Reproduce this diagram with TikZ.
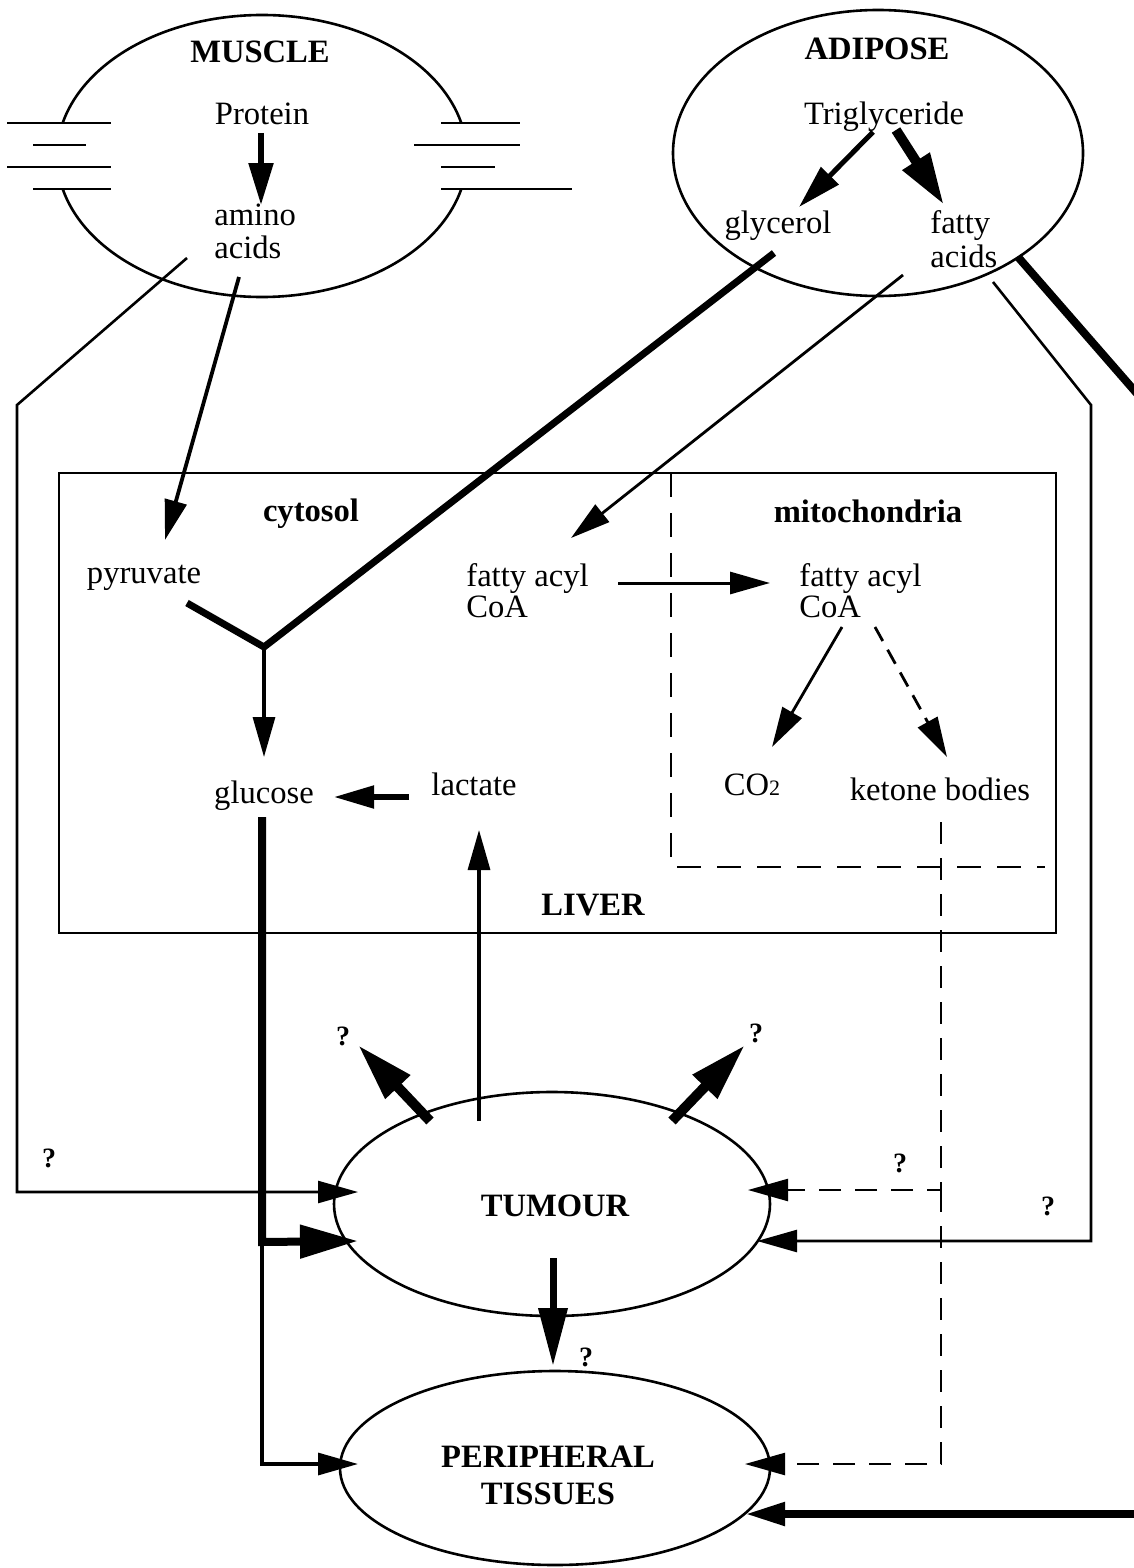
\documentclass[tikz,border=0pt]{standalone}
\usepackage{fontspec}
\setmainfont{Liberation Serif}
\usetikzlibrary{arrows.meta,shapes.geometric}

\tikzset{
  txt/.style={font=\fontsize{16.3}{16.5}\selectfont, inner sep=0pt, align=left},
  hdr/.style={font=\fontsize{16.3}{18.5}\selectfont\bfseries, inner sep=0pt, align=center},
  qm/.style={font=\fontsize{14}{14}\selectfont\bfseries, inner sep=0pt},
  organ/.style={draw, ellipse, line width=1.3pt, inner sep=0pt},
  hd/.style={-{Triangle[length=20pt,width=11pt]}},
  hdbig/.style={-{Triangle[length=29pt,width=16pt]}},
  fine/.style={line width=1.3pt},
  mid/.style={line width=1.6pt},
  heavy/.style={line width=4pt},
  dashln/.style={line width=1.2pt, dash pattern=on 11pt off 7pt},
}

\begin{document}
\begin{tikzpicture}[x=0.5pt, y=-0.5pt, line join=miter]
  \useasboundingbox (0,0) rectangle (1134,1568);
  \fill[white] (0,0) rectangle (1134,1568);
  \clip (0,0) rectangle (1134,1568);

  % muscle, cut open at both sides
  \draw[fine] (461.3,123.1) arc[start angle=13.5, end angle=166.5, x radius=102.5pt, y radius=70.5pt];
  \draw[fine] (62.7,188.9) arc[start angle=193.5, end angle=346.5, x radius=102.5pt, y radius=70.5pt];
  \foreach \y/\a/\b in {123/7/111, 145/33/86, 167/7/111, 189/33/111,
                        123/441/520, 145/414/520, 167/441/495, 189/441/572}
    \draw[line width=1.4pt] (\a,\y) -- (\b,\y);
  \node[hdr, anchor=base] (muscleT) at (260,63) {MUSCLE};
  \node[txt, anchor=base] (prot) at (262,125) {Protein};
  \node[txt, anchor=base west] (amino) at (214,258) {amino\\acids};

  % adipose
  \node[organ, minimum width=205pt, minimum height=143pt] (adipose) at (878,153) {};
  \node[hdr, anchor=base] (adiposeT) at (877,60) {ADIPOSE};
  \node[txt, anchor=base] (trig) at (884,125) {Triglyceride};
  \node[txt, anchor=base] (glyc) at (778,233) {glycerol};
  \node[txt, anchor=base west, font=\fontsize{16.3}{17}\selectfont] (fatty) at (930,267) {fatty\\acids};

  % liver
  \node[draw, line width=1.4pt, inner sep=0pt, minimum width=498.5pt, minimum height=230pt] (liver) at (557.5,703) {};
  \draw[line width=1.4pt, dash pattern=on 12pt off 8pt] (671,473) -- (671,867) -- (1045,867);
  \node[hdr, anchor=base] (cyto) at (311,521) {cytosol};
  \node[hdr, anchor=base] (mito) at (868,522) {mitochondria};
  \node[txt, anchor=base] (pyr) at (144,583) {pyruvate};
  \node[txt, anchor=base west, font=\fontsize{16.3}{15.5}\selectfont] (acylC) at (466,617) {fatty acyl\\CoA};
  \node[txt, anchor=base west, font=\fontsize{16.3}{15.5}\selectfont] (acylM) at (799,617) {fatty acyl\\CoA};
  \node[txt, anchor=base] (co2) at (752,795) {CO{\fontsize{11}{11}\selectfont 2}};
  \node[txt, anchor=base] (ketone) at (940,800) {ketone bodies};
  \node[txt, anchor=base] (gluc) at (264,803) {glucose};
  \node[txt, anchor=base] (lact) at (474,795) {lactate};
  \node[hdr, anchor=base] (liverT) at (593,915) {LIVER};

  % tumour and peripheral tissues
  \node[organ, minimum width=218pt, minimum height=112pt] (tumour) at (552,1204) {};
  \node[hdr, anchor=base] (tumourT) at (555,1216) {TUMOUR};
  \node[organ, minimum width=215pt, minimum height=97pt] (periph) at (555,1468) {};
  \node[hdr, anchor=base] (periphT) at (548,1504) {PERIPHERAL\\TISSUES};
  \node[qm] (q1) at (343,1036) {?};
  \node[qm] (q2) at (756,1033) {?};
  \node[qm] (q3) at (49,1158) {?};
  \node[qm] (q4) at (900,1163) {?};
  \node[qm] (q5) at (1048,1206) {?};
  \node[qm] (q6) at (586,1357) {?};

  % connector ends and bends
  \coordinate (pa) at (261,133);   \coordinate (pb) at (261,205);
  \coordinate (am1) at (239,277);  \coordinate (pyrTip) at (165,540);
  \coordinate (am2) at (187,258);  \coordinate (bendL) at (17,405);
  \coordinate (cornL) at (17,1192); \coordinate (tumL1) at (358,1192);
  \coordinate (tg1) at (873,132);  \coordinate (tg1e) at (799,207);
  \coordinate (tg2) at (896,130);  \coordinate (tg2e) at (944,205);
  \coordinate (gl) at (774,253);   \coordinate (yj) at (264,647);
  \coordinate (py) at (187,603);   \coordinate (yTip) at (264,757);
  \coordinate (fa1) at (903,275);  \coordinate (acTip) at (571,538);
  \coordinate (fa2) at (993,282);  \coordinate (bendR) at (1091,405);
  \coordinate (cornR) at (1091,1241); \coordinate (tumR2) at (757,1241);
  \coordinate (fa3) at (1018,257); \coordinate (offR) at (1160,420);
  \coordinate (offR2) at (1160,1514); \coordinate (perR2) at (745,1514);
  \coordinate (acA) at (618,583);  \coordinate (acB) at (770,583);
  \coordinate (mA) at (842,627);   \coordinate (co2Tip) at (772,747);
  \coordinate (mB) at (875,627);   \coordinate (ketTip) at (947,757);
  \coordinate (ketA) at (941,822); \coordinate (ketJ) at (941,1190);
  \coordinate (tumR1) at (748,1190); \coordinate (ketC) at (941,1464);
  \coordinate (perR1) at (745,1464);
  \coordinate (lacA) at (409,797); \coordinate (glTip) at (334,797);
  \coordinate (gu) at (262,817);   \coordinate (guJ) at (262,1242);
  \coordinate (tumL2) at (358,1241); \coordinate (guC) at (262,1464);
  \coordinate (perL) at (358,1464);
  \coordinate (laA) at (479,1121); \coordinate (laTip) at (479,830);
  \coordinate (tu1) at (430,1121); \coordinate (tu1e) at (358,1045);
  \coordinate (tu2) at (672,1121); \coordinate (tu2e) at (745,1045);
  \coordinate (tu3) at (553,1258); \coordinate (tu3e) at (553,1366);

  % muscle flows
  \draw[line width=2.7pt, -{Triangle[length=21pt,width=12pt]}] (pa) -- (pb);
  \draw[line width=1.9pt, hd] (am1) -- (pyrTip);
  \draw[fine, hd] (am2) -- (bendL) -- (cornL) -- (tumL1);

  % adipose flows
  \draw[line width=2.5pt, -{Triangle[length=22pt,width=12pt]}] (tg1) -- (tg1e);
  \draw[line width=5pt, -{Triangle[length=26pt,width=15pt]}] (tg2) -- (tg2e);
  \draw[line width=3.5pt] (py) -- (yj) -- (gl);
  \draw[mid, hd] (yj) -- (yTip);
  \draw[line width=1.4pt, hd] (fa1) -- (acTip);
  \draw[fine, hd] (fa2) -- (bendR) -- (cornR) -- (tumR2);
  \draw[heavy] (fa3) -- (offR);
  \draw[heavy, hd] (offR2) -- (perR2);

  % liver flows
  \draw[line width=1.5pt, hd] (acA) -- (acB);
  \draw[line width=1.4pt, hd] (mA) -- (co2Tip);
  \draw[line width=1.4pt, dash pattern=on 8pt off 5pt, hd] (mB) -- (ketTip);
  \draw[dashln, hd] (ketA) -- (ketJ) -- (tumR1);
  \draw[dashln, hd] (ketJ) -- (ketC) -- (perR1);
  \draw[line width=2.6pt, hd] (lacA) -- (glTip);
  \draw[heavy, hdbig] (gu) -- (guJ) -- (tumL2);
  \draw[mid, hd] (guJ) -- (guC) -- (perL);
  \draw[mid, hd] (laA) -- (laTip);

  % tumour outputs
  \draw[line width=5pt, hdbig] (tu1) -- (tu1e);
  \draw[line width=5pt, hdbig] (tu2) -- (tu2e);
  \draw[line width=3.5pt, -{Triangle[length=29pt,width=14pt]}] (tu3) -- (tu3e);
\end{tikzpicture}
\end{document}
